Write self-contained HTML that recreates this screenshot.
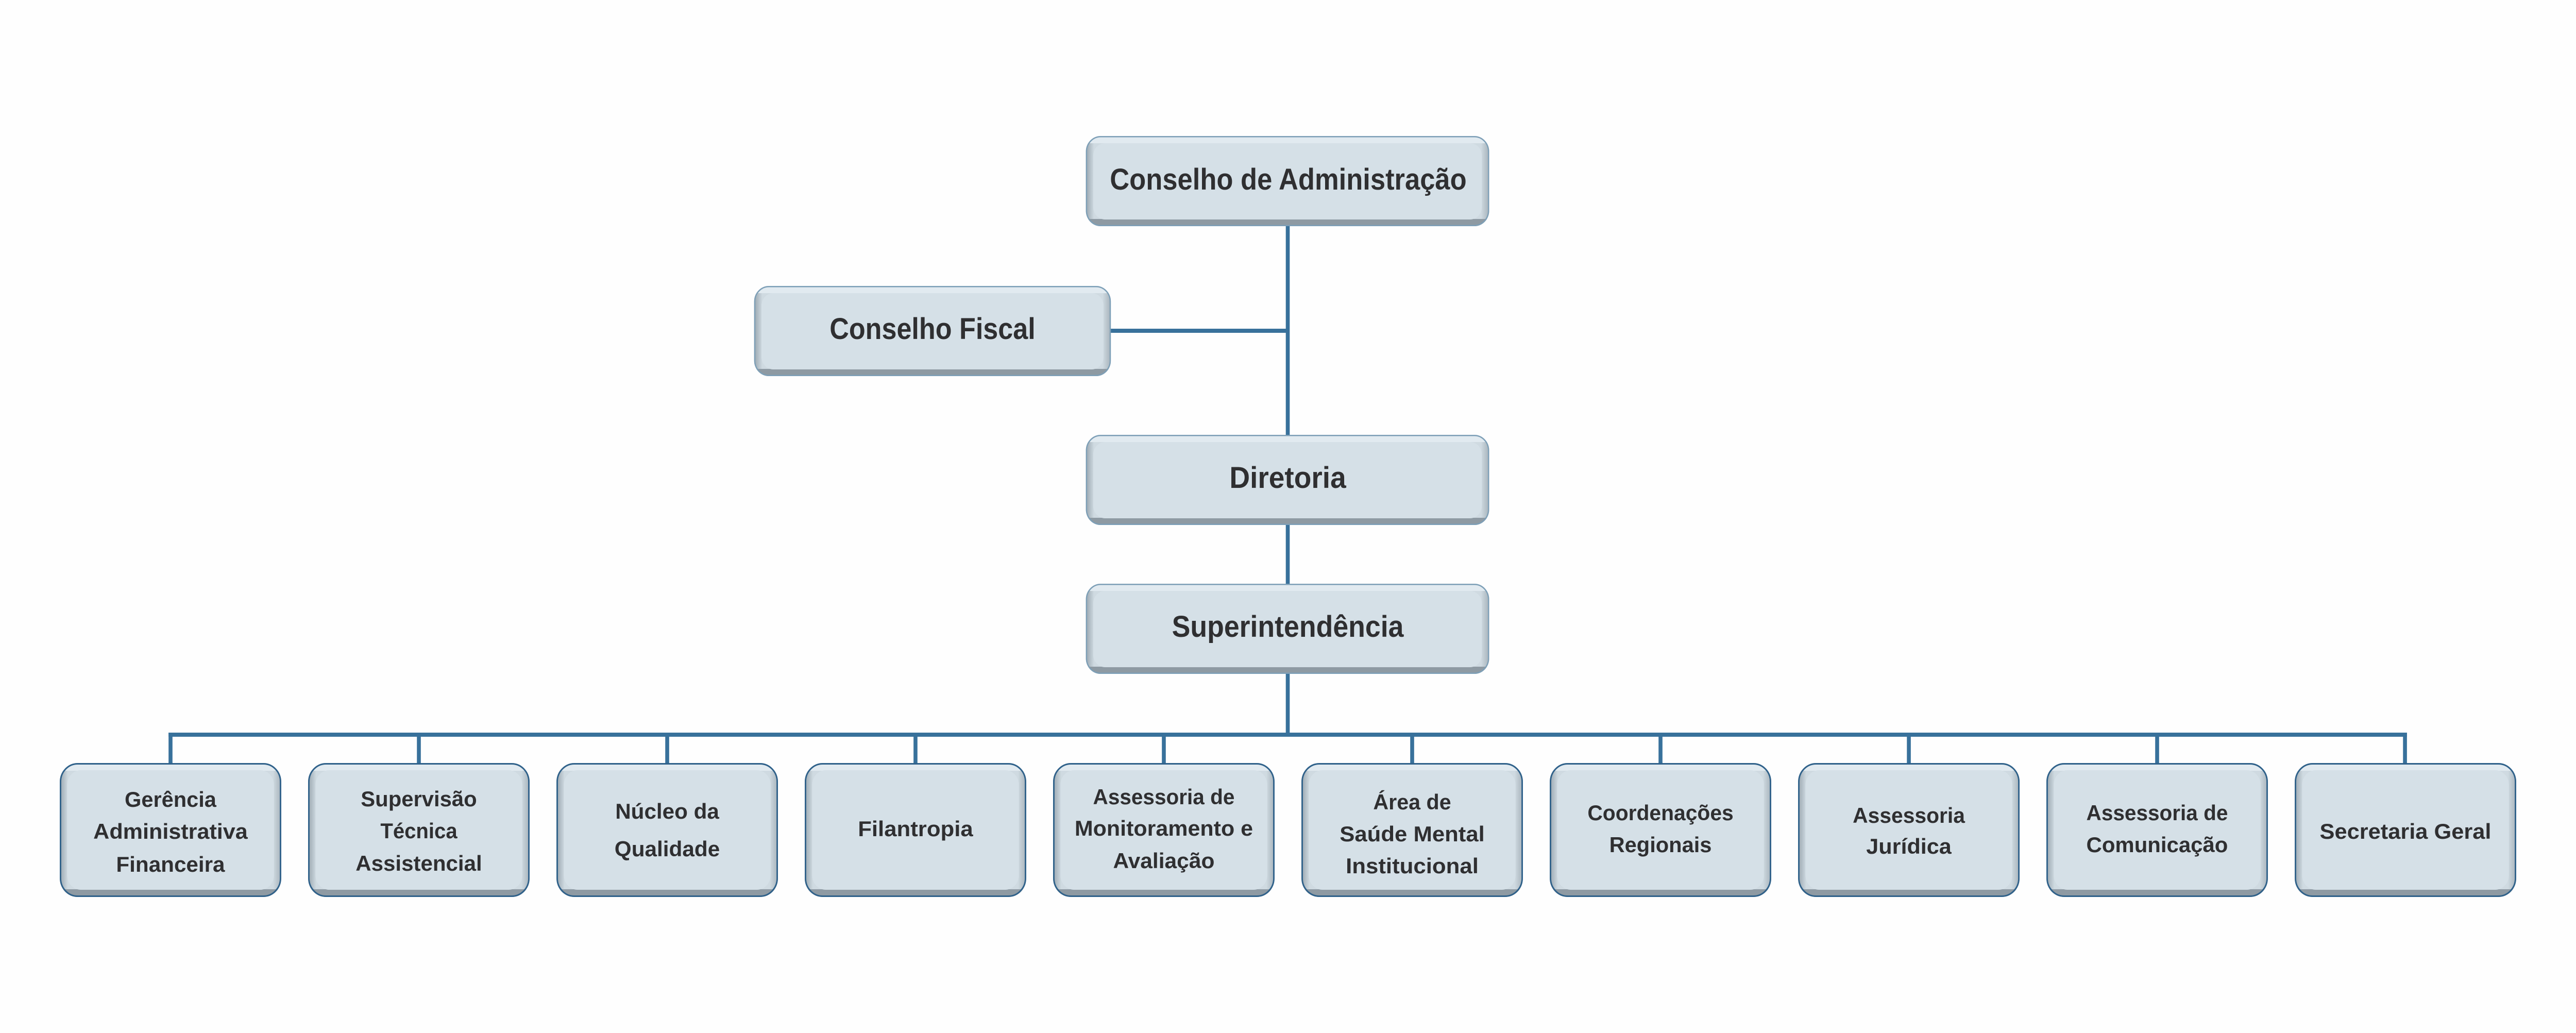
<!DOCTYPE html>
<html>
<head>
<meta charset="utf-8">
<style>
html,body{margin:0;padding:0;background:#fefefe;overflow:hidden;}
body{width:100vw;height:100vh;}
svg{display:block;width:100vw;height:100vh;}
text{font-family:"Liberation Sans",Arial,sans-serif;font-weight:bold;fill:#2f2f31;text-anchor:middle;}
.t{font-size:58px;}
.b{font-size:42px;}
</style>
</head>
<body>
<svg viewBox="0 0 5257 2005" preserveAspectRatio="none" xmlns="http://www.w3.org/2000/svg">
<defs>
  <linearGradient id="gL" x1="0" y1="0" x2="1" y2="0">
    <stop offset="0" stop-color="#98a5ae"/>
    <stop offset="1" stop-color="#cdd8df"/>
  </linearGradient>
  <linearGradient id="gR" x1="0" y1="0" x2="1" y2="0">
    <stop offset="0" stop-color="#cdd8df"/>
    <stop offset="1" stop-color="#a6b2ba"/>
  </linearGradient>
  <clipPath id="cT"><rect x="0" y="0" width="823" height="175" rx="30"/></clipPath>
  <clipPath id="cF"><rect x="0" y="0" width="728" height="175" rx="30"/></clipPath>
  <clipPath id="cB"><rect x="0" y="0" width="452" height="260" rx="36"/></clipPath>

  <g id="topbox">
    <g clip-path="url(#cT)">
      <rect width="823" height="175" fill="#cfdae1"/>
      <rect width="16" height="175" fill="url(#gL)"/>
      <rect x="807" width="16" height="175" fill="url(#gR)"/>
      <rect width="823" height="14" fill="#e1eaf0"/>
      <rect y="161" width="823" height="14" fill="#8e9aa3"/>
    </g>
    <rect x="15" y="14" width="793" height="148" rx="24" fill="#d5e0e7"/>
    <rect x="1.25" y="1.25" width="820.5" height="172.5" rx="29" fill="none" stroke="#7d9fb7" stroke-width="2.5"/>
  </g>

  <g id="fisbox">
    <g clip-path="url(#cF)">
      <rect width="728" height="175" fill="#cfdae1"/>
      <rect width="16" height="175" fill="url(#gL)"/>
      <rect x="712" width="16" height="175" fill="url(#gR)"/>
      <rect width="728" height="14" fill="#e1eaf0"/>
      <rect y="161" width="728" height="14" fill="#8e9aa3"/>
    </g>
    <rect x="15" y="14" width="698" height="148" rx="24" fill="#d5e0e7"/>
    <rect x="1.25" y="1.25" width="725.5" height="172.5" rx="29" fill="none" stroke="#7d9fb7" stroke-width="2.5"/>
  </g>

  <g id="botbox">
    <g clip-path="url(#cB)">
      <rect width="452" height="260" fill="#cfdae1"/>
      <rect width="16" height="260" fill="url(#gL)"/>
      <rect x="436" width="16" height="260" fill="url(#gR)"/>
      <rect width="452" height="15" fill="#e1eaf0"/>
      <rect y="245" width="452" height="15" fill="#8e9aa3"/>
    </g>
    <rect x="15" y="14" width="422" height="232" rx="28" fill="#d5e0e7"/>
    <rect x="1.5" y="1.5" width="449" height="257" rx="35" fill="none" stroke="#2f618a" stroke-width="3"/>
  </g>
</defs>

<rect width="5257" height="2005" fill="#fefefe"/>

<!-- connectors -->
<g fill="#38719b">
  <rect x="2624" y="439" width="8" height="987"/>
  <rect x="2266" y="638" width="362" height="8"/>
  <rect x="344" y="1422" width="4568" height="8"/>
  <rect x="344" y="1422" width="8" height="62"/>
  <rect x="850.8" y="1422" width="8" height="62"/>
  <rect x="1357.6" y="1422" width="8" height="62"/>
  <rect x="1864.3" y="1422" width="8" height="62"/>
  <rect x="2371.1" y="1422" width="8" height="62"/>
  <rect x="2877.9" y="1422" width="8" height="62"/>
  <rect x="3384.7" y="1422" width="8" height="62"/>
  <rect x="3891.5" y="1422" width="8" height="62"/>
  <rect x="4398.2" y="1422" width="8" height="62"/>
  <rect x="4904" y="1422" width="8" height="62"/>
</g>

<!-- top boxes -->
<use href="#topbox" x="2216" y="264"/>
<use href="#fisbox" x="1539" y="555"/>
<use href="#topbox" x="2216" y="844"/>
<use href="#topbox" x="2216" y="1133"/>

<text class="t" x="2629" y="368" textLength="728" lengthAdjust="spacingAndGlyphs">Conselho de Administração</text>
<text class="t" x="1903" y="658" textLength="420" lengthAdjust="spacingAndGlyphs">Conselho Fiscal</text>
<text class="t" x="2628" y="947" textLength="238" lengthAdjust="spacingAndGlyphs">Diretoria</text>
<text class="t" x="2628" y="1236" textLength="473" lengthAdjust="spacingAndGlyphs">Superintendência</text>

<!-- bottom boxes -->
<use href="#botbox" x="122" y="1481"/>
<use href="#botbox" x="628.8" y="1481"/>
<use href="#botbox" x="1135.6" y="1481"/>
<use href="#botbox" x="1642.3" y="1481"/>
<use href="#botbox" x="2149.1" y="1481"/>
<use href="#botbox" x="2655.9" y="1481"/>
<use href="#botbox" x="3162.7" y="1481"/>
<use href="#botbox" x="3669.5" y="1481"/>
<use href="#botbox" x="4176.2" y="1481"/>
<use href="#botbox" x="4683" y="1481"/>

<!-- bottom labels -->
<text class="b" x="348" y="1566" textLength="187" lengthAdjust="spacingAndGlyphs">Gerência</text>
<text class="b" x="348" y="1628" textLength="315" lengthAdjust="spacingAndGlyphs">Administrativa</text>
<text class="b" x="348" y="1692" textLength="222" lengthAdjust="spacingAndGlyphs">Financeira</text>

<text class="b" x="854.8" y="1565" textLength="237" lengthAdjust="spacingAndGlyphs">Supervisão</text>
<text class="b" x="854.8" y="1627" textLength="157" lengthAdjust="spacingAndGlyphs">Técnica</text>
<text class="b" x="854.8" y="1690" textLength="258" lengthAdjust="spacingAndGlyphs">Assistencial</text>

<text class="b" x="1361.6" y="1589" textLength="212" lengthAdjust="spacingAndGlyphs">Núcleo da</text>
<text class="b" x="1361.6" y="1662" textLength="215" lengthAdjust="spacingAndGlyphs">Qualidade</text>

<text class="b" x="1868.3" y="1623" textLength="235" lengthAdjust="spacingAndGlyphs">Filantropia</text>

<text class="b" x="2375.1" y="1561" textLength="289" lengthAdjust="spacingAndGlyphs">Assessoria de</text>
<text class="b" x="2375.1" y="1622" textLength="364" lengthAdjust="spacingAndGlyphs">Monitoramento e</text>
<text class="b" x="2375.1" y="1685" textLength="207" lengthAdjust="spacingAndGlyphs">Avaliação</text>

<text class="b" x="2881.9" y="1571" textLength="159" lengthAdjust="spacingAndGlyphs">Área de</text>
<text class="b" x="2881.9" y="1633" textLength="296" lengthAdjust="spacingAndGlyphs">Saúde Mental</text>
<text class="b" x="2881.9" y="1695" textLength="271" lengthAdjust="spacingAndGlyphs">Institucional</text>

<text class="b" x="3388.7" y="1592" textLength="298" lengthAdjust="spacingAndGlyphs">Coordenações</text>
<text class="b" x="3388.7" y="1654" textLength="209" lengthAdjust="spacingAndGlyphs">Regionais</text>

<text class="b" x="3895.5" y="1597" textLength="229" lengthAdjust="spacingAndGlyphs">Assessoria</text>
<text class="b" x="3895.5" y="1657" textLength="174" lengthAdjust="spacingAndGlyphs">Jurídica</text>

<text class="b" x="4402.2" y="1592" textLength="289" lengthAdjust="spacingAndGlyphs">Assessoria de</text>
<text class="b" x="4402.2" y="1654" textLength="289" lengthAdjust="spacingAndGlyphs">Comunicação</text>

<text class="b" x="4909" y="1628" textLength="350" lengthAdjust="spacingAndGlyphs">Secretaria Geral</text>
</svg>
</body>
</html>
